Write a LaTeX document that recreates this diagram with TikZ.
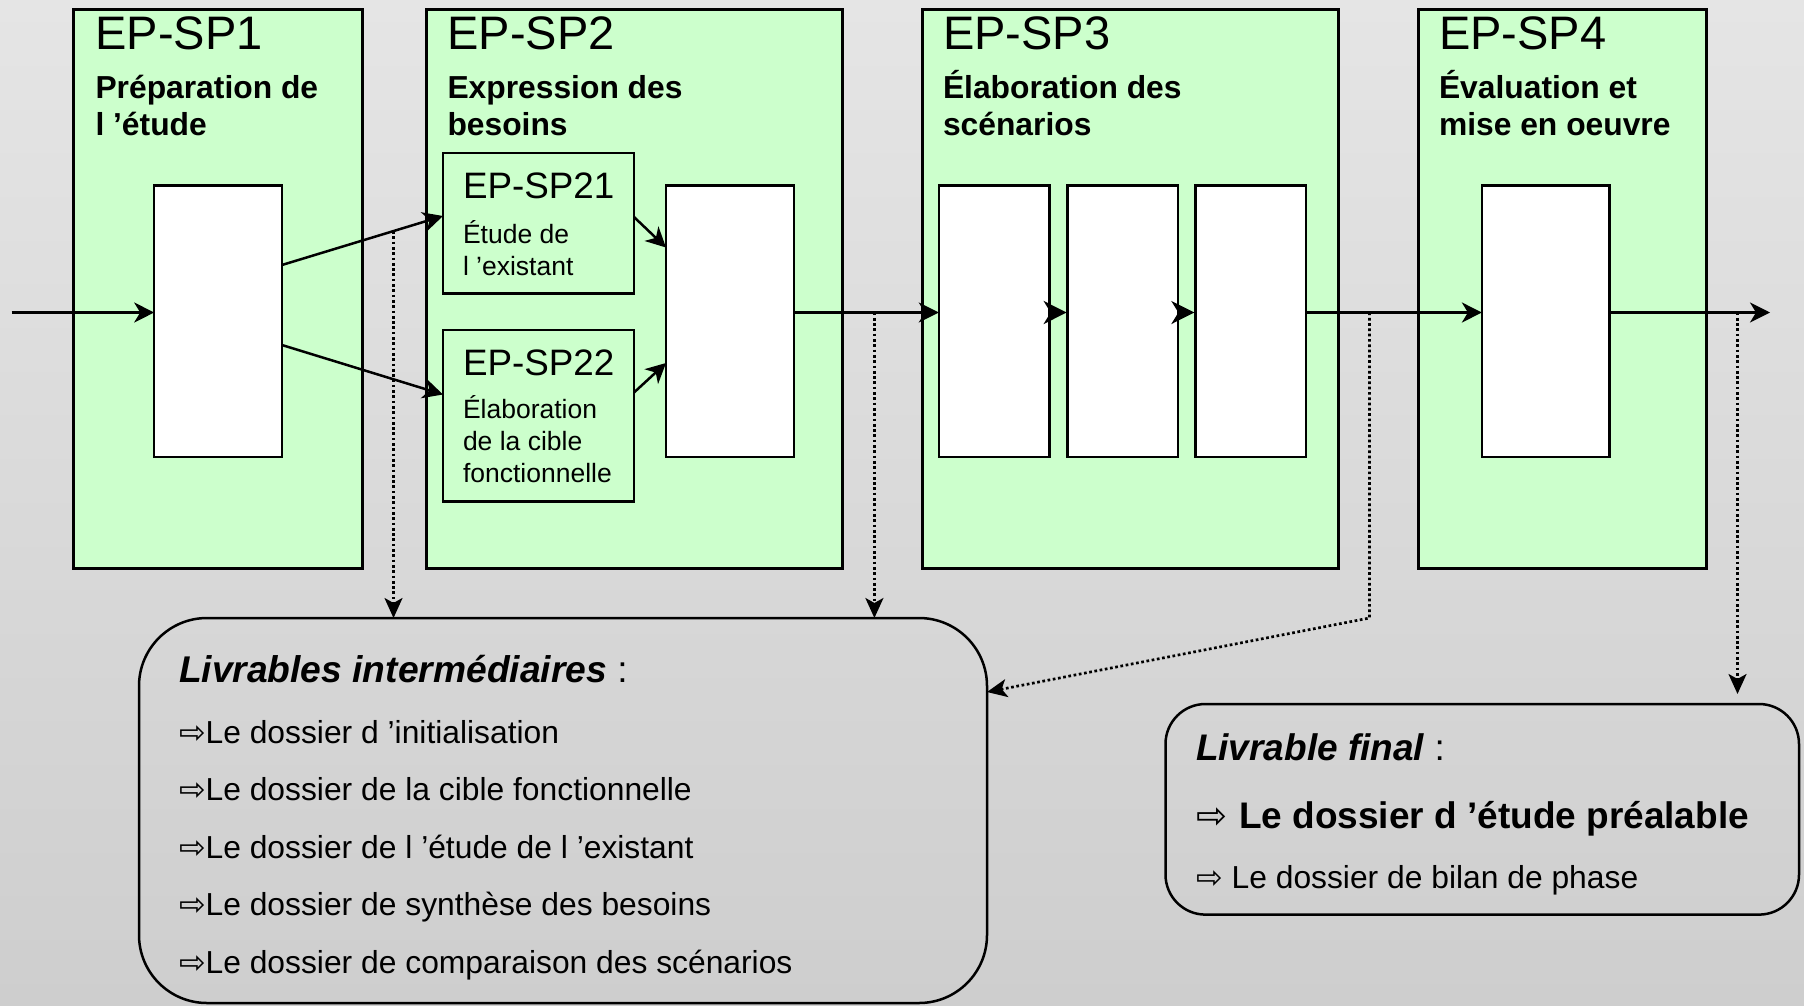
\documentclass[tikz,border=0pt]{standalone}
\usepackage{fontspec}
\setmainfont{Liberation Sans}
\newfontfamily\arrowfont{DejaVu Sans}
\usetikzlibrary{arrows.meta,calc}
\definecolor{phasegreen}{RGB}{204,255,204}
\definecolor{bgtop}{RGB}{229,229,229}
\definecolor{bgbot}{RGB}{206,206,206}
\newcommand{\setpx}[1]{\fontsize{#1}{#1}\selectfont}
\newcommand{\hollowarrow}{{\arrowfont\mdseries ⇨}}

\begin{document}
\begin{tikzpicture}[x=1pt,y=-1pt,
  phase/.style={draw, line width=3pt, fill=phasegreen, inner sep=0pt, outer sep=0pt, minimum height=558.8pt},
  subphase/.style={draw, line width=2.5pt, fill=phasegreen, inner sep=0pt, outer sep=0pt, minimum width=191pt},
  stepbox/.style={draw, line width=2.5pt, fill=white, inner sep=0pt, outer sep=0pt, minimum height=271.5pt},
  deliv/.style={draw, line width=2.5pt, inner sep=0pt, outer sep=0pt},
  txt/.style={anchor=base west, inner sep=0pt, outer sep=0pt},
  bigtitle/.style={txt, font=\setpx{47}},
  subtitle/.style={txt, font=\bfseries\setpx{31.8}},
  smalltitle/.style={txt, font=\setpx{36.8}},
  smalltxt/.style={txt, font=\setpx{26.5}},
  itemtxt/.style={txt, font=\setpx{31.8}},
  arr/.style={line width=2.5pt, -{Stealth[length=20pt,width=20pt,inset=6pt]}},
  shortarr/.style={line width=2.5pt, -{Stealth[length=23pt,width=23pt,inset=7pt]}, shorten >=1pt},
  dots/.style={line width=2.7pt, dash pattern=on 2.7pt off 2.6pt, -{Stealth[length=20pt,width=18pt,inset=5pt]}}
]
% background
\shade[top color=bgtop, bottom color=bgbot] (0,0) rectangle (1804,1005);
\useasboundingbox (0,0) rectangle (1804,1005);

% phases
\node[phase, minimum width=288.8pt] (sp1) at (218,288.6) {};
\node[phase, minimum width=415.4pt] (sp2) at (634.5,288.6) {};
\node[phase, minimum width=415.3pt] (sp3) at (1130.35,288.6) {};
\node[phase, minimum width=287.6pt] (sp4) at (1562.4,288.6) {};

\node[bigtitle] (t1) at (95.5,49) {EP-SP1};
\node[subtitle] (t1a) at (95.5,98.7) {Préparation de};
\node[subtitle] (t1b) at (95.5,135) {l ’étude};
\node[bigtitle] (t2) at (447.5,49) {EP-SP2};
\node[subtitle] (t2a) at (447.5,98.7) {Expression des};
\node[subtitle] (t2b) at (447.5,135) {besoins};
\node[bigtitle] (t3) at (943,49) {EP-SP3};
\node[subtitle] (t3a) at (943,98.7) {Élaboration des};
\node[subtitle] (t3b) at (943,135) {scénarios};
\node[bigtitle] (t4) at (1439,49) {EP-SP4};
\node[subtitle] (t4a) at (1439,98.7) {Évaluation et};
\node[subtitle] (t4b) at (1439,135) {mise en oeuvre};

% sub-phases of EP-SP2
\node[subphase, minimum height=140.4pt] (s21) at (538.5,223.2) {};
\node[smalltitle] (t21) at (463,198) {EP-SP21};
\node[smalltxt] (t21a) at (463,243) {Étude de};
\node[smalltxt] (t21b) at (463,275) {l ’existant};
\node[subphase, minimum height=171.6pt] (s22) at (538.5,415.8) {};
\node[smalltitle] (t22) at (463,375) {EP-SP22};
\node[smalltxt] (t22a) at (463,418) {Élaboration};
\node[smalltxt] (t22b) at (463,450) {de la cible};
\node[smalltxt] (t22c) at (463,482.5) {fonctionnelle};

% step boxes
\node[stepbox, minimum width=127.7pt] (w1) at (218.05,321) {};
\node[stepbox, minimum width=128pt] (w2) at (730,321) {};
\node[stepbox, minimum width=110.5pt] (w3a) at (994.05,321) {};
\node[stepbox, minimum width=110.5pt] (w3b) at (1122.9,321) {};
\node[stepbox, minimum width=110.5pt] (w3c) at (1250.6,321) {};
\node[stepbox, minimum width=127.7pt] (w4) at (1545.75,321) {};

% deliverable boxes
\node[deliv, rounded corners=68pt, minimum width=848pt, minimum height=385pt] (b1) at (563,810.5) {};
\node[txt, font=\bfseries\itshape\setpx{37.2}] (b1t) at (179,682) {Livrables intermédiaires\mdseries\upshape\ :};
\node[itemtxt] (b1i1) at (179,743) {\hollowarrow Le dossier d ’initialisation};
\node[itemtxt] (b1i2) at (179,800.5) {\hollowarrow Le dossier de la cible fonctionnelle};
\node[itemtxt] (b1i3) at (179,858) {\hollowarrow Le dossier de l ’étude de l ’existant};
\node[itemtxt] (b1i4) at (179,915.5) {\hollowarrow Le dossier de synthèse des besoins};
\node[itemtxt] (b1i5) at (179,973) {\hollowarrow Le dossier de comparaison des scénarios};

\node[deliv, rounded corners=40pt, minimum width=633.5pt, minimum height=210.6pt] (b2) at (1482.25,809.3) {};
\node[txt, font=\bfseries\itshape\setpx{37}] (b2t) at (1196,760) {Livrable final\mdseries\upshape\ :};
\node[txt, font=\bfseries\setpx{37}] (b2i1) at (1196,828.5) {\hollowarrow\hspace{12pt}Le dossier d ’étude préalable};
\node[itemtxt] (b2i2) at (1196,888) {\hollowarrow\hspace{9pt}Le dossier de bilan de phase};

% flow
\coordinate (in) at (11.5,312.5);
\coordinate (out) at (1770,312.5);
\draw[arr] (in) -- (w1.west |- in);
\draw[arr] (w1.east |- 0,265) -- (s21.west |- 0,216);
\draw[arr] (w1.east |- 0,345) -- (s22.west |- 0,394.5);
\draw[arr] (s21.east |- 0,217) -- (w2.west |- 0,247.5);
\draw[arr] (s22.east |- 0,392.5) -- (w2.west |- 0,363);
\draw[arr] (w2.east |- in) -- (w3a.west |- in);
\draw[shortarr] (w3a.east |- in) -- (w3b.west |- in);
\draw[shortarr] (w3b.east |- in) -- (w3c.west |- in);
\draw[arr] (w3c.east |- in) -- (w4.west |- in);
\draw[arr] (w4.east |- in) -- (out);

% deliverable links
\coordinate (u1) at (w1.east |- 0,265);
\coordinate (u2) at (s21.west |- 0,216);
\coordinate (v1) at (393.5,0);
\coordinate (v2) at (393.5,600);
\coordinate (d1) at (intersection of u1--u2 and v1--v2);
\coordinate (d2) at (874.4,312.5);
\coordinate (d3) at (1369.5,312.5);
\coordinate (d4) at (1737.5,312.5);
\coordinate (d4end) at (1737.5,694);
\draw[dots] (d1) -- (b1.north -| d1);
\draw[dots] (d2) -- (b1.north -| d2);
\draw[dots] (d3) -- (b1.north -| d3) -- (b1.east |- 0,692);
\draw[dots] (d4) -- (d4end);
\end{tikzpicture}
\end{document}
